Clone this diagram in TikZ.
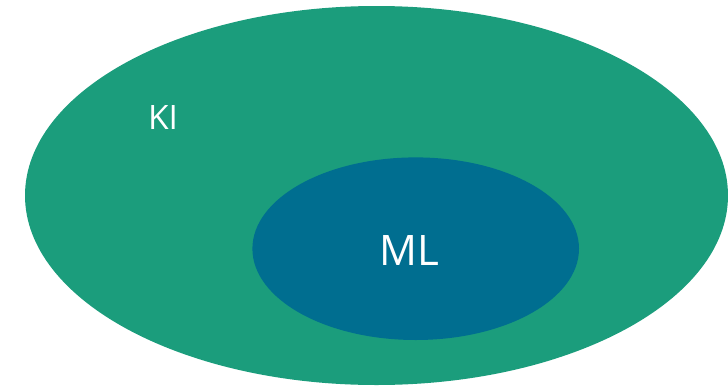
\documentclass[tikz,border=0pt]{standalone}
\usepackage{fontspec}
\setmainfont{Open Sans}
\definecolor{kigreen}{RGB}{27,157,124}
\definecolor{mlblue}{RGB}{0,110,144}
\begin{document}
\begin{tikzpicture}[x=1pt,y=-1pt,
  lbl/.style={text=white,anchor=base,inner sep=0pt}]
\useasboundingbox (0,0) rectangle (728,386);
\fill[kigreen] (376.5,195.5) ellipse [x radius=351.5, y radius=189.5];
\fill[mlblue] (415.7,248.7) ellipse [x radius=163.3, y radius=91.3];
\node[lbl,font=\fontsize{33.6}{36}\selectfont] (ki) at (163,129) {KI};
\node[lbl,font=\fontsize{42}{46}\selectfont] (ml) at (409,265) {ML};
\end{tikzpicture}
\end{document}
